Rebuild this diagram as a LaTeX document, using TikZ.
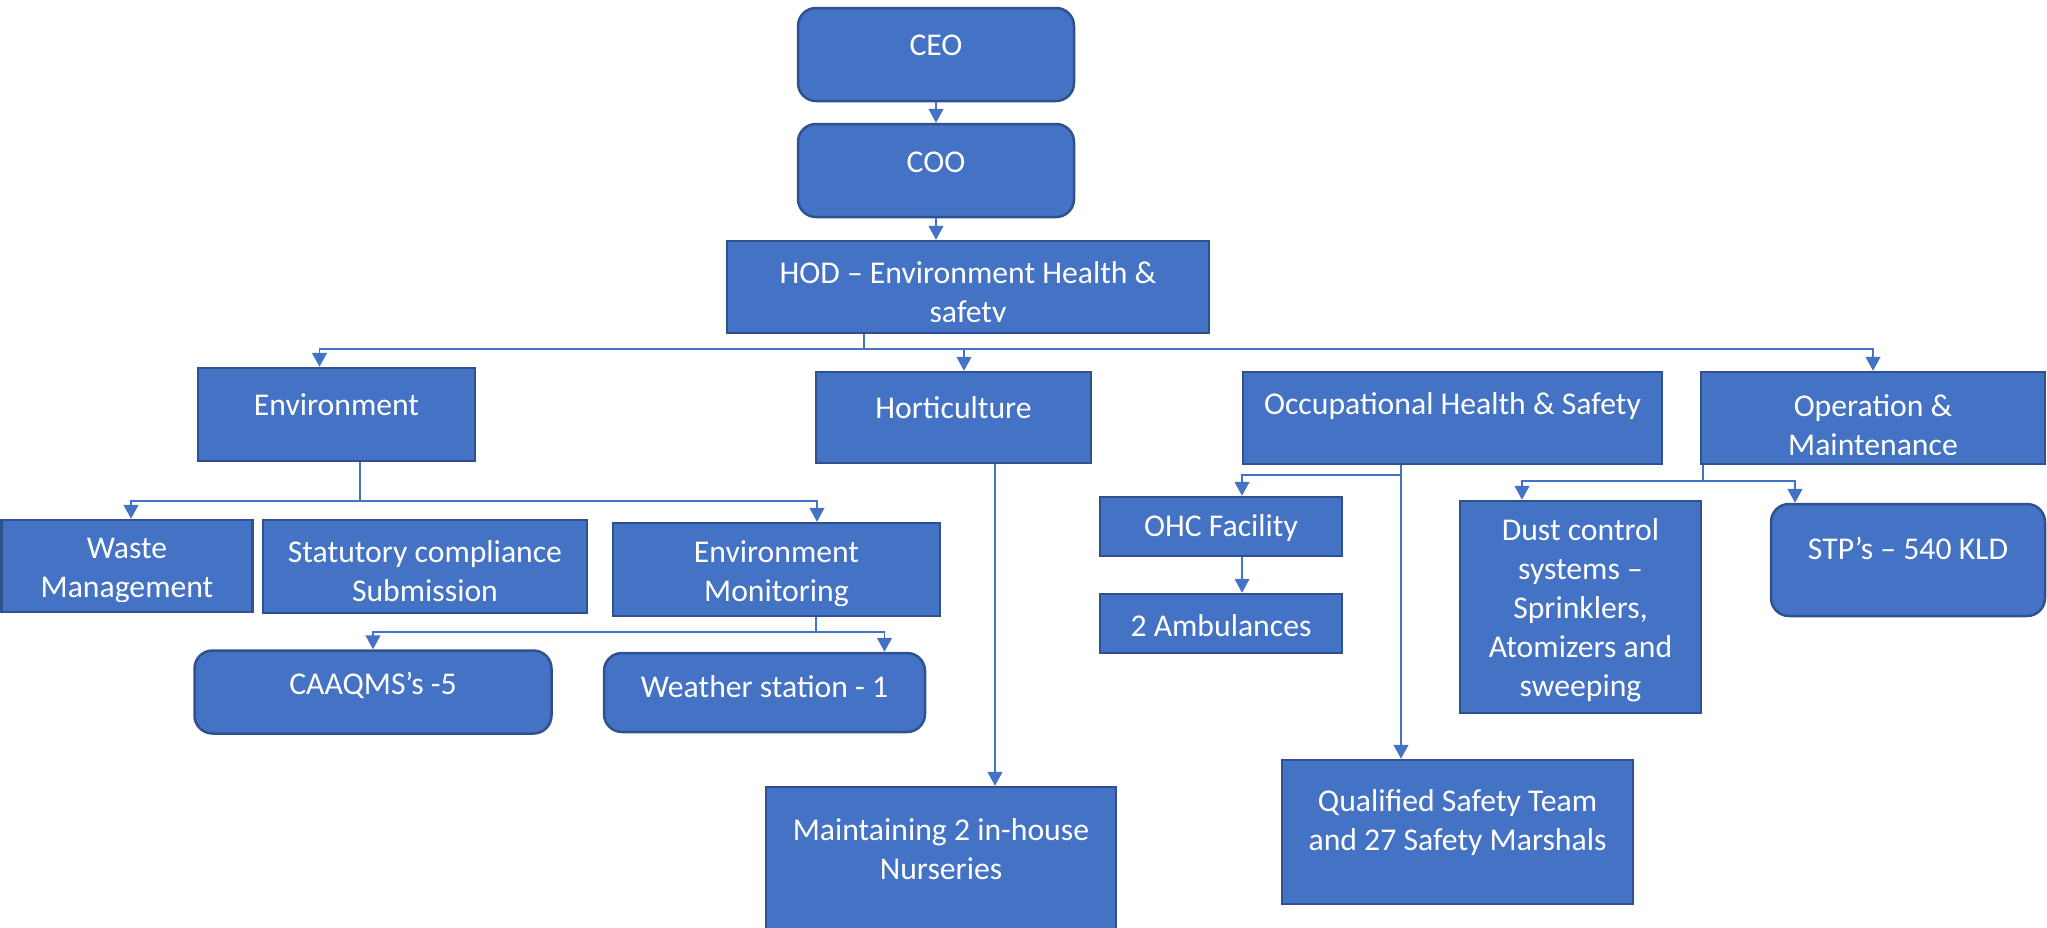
\documentclass[tikz,border=0pt]{standalone}
\usepackage{fontspec}
\setmainfont{Carlito}
\usetikzlibrary{arrows.meta}

\definecolor{boxfill}{HTML}{4472C4}
\definecolor{boxline}{HTML}{2F528F}
\definecolor{linkblue}{HTML}{4472C4}

\begin{document}
\begin{tikzpicture}[
    x=1pt, y=-1pt,
    box/.style={rectangle, draw=boxline, line width=2.5pt, fill=boxfill, inner sep=0pt},
    rbox/.style={box, rounded corners=18pt},
    txt/.style={text=white, align=center, inner sep=0pt, font=\fontsize{31.7}{39}\selectfont},
    link/.style={draw=linkblue, line width=1.3pt},
    arrow/.style={link, -{Triangle[length=14pt, width=15pt]}}
]
\useasboundingbox (0,0) rectangle (2047,927);

% --- Top chain ---
\node[rbox, minimum width=276pt, minimum height=93pt] (ceo) at (936,54.5) {};
\node[txt] (ceo_txt) at ([yshift=9.5pt]ceo.center) {CEO};
\node[rbox, minimum width=276pt, minimum height=93pt] (coo) at (936,170.5) {};
\node[txt] (coo_txt) at ([yshift=8.5pt]coo.center) {COO};
\node[box, minimum width=482pt, minimum height=92pt] (hod) at (968,287) {};
\begin{scope}
  \clip (hod.north west) rectangle ([yshift=13pt]hod.south east);
  \node[txt] (hod_txt) at ([yshift=-7.5pt]hod.center) {HOD – Environment Health \&\\safety};
\end{scope}

% --- Departments ---
\node[box, minimum width=277pt, minimum height=93pt] (env) at (336.5,414.5) {};
\node[txt] (env_txt) at ([yshift=10pt]env.center) {Environment};
\node[box, minimum width=275pt, minimum height=91pt] (hort) at (953.5,417.5) {};
\node[txt] (hort_txt) at ([yshift=10pt]hort.center) {Horticulture};
\node[box, minimum width=419pt, minimum height=92pt] (ohs) at (1452.5,418) {};
\node[txt] (ohs_txt) at ([yshift=12pt]ohs.center) {Occupational Health \& Safety};
\node[box, minimum width=344pt, minimum height=92pt] (om) at (1873,418) {};
\begin{scope}
  \clip (om.north west) rectangle ([yshift=11pt]om.south east);
  \node[txt] (om_txt) at ([yshift=-7.5pt]om.center) {Operation \&\\Maintenance};
\end{scope}

% --- Environment branch ---
\node[box, minimum width=251pt, minimum height=92pt] (waste) at (127,566) {};
\begin{scope}
  \clip (waste.north west) rectangle ([yshift=12pt]waste.south east);
  \node[txt] (waste_txt) at ([yshift=-4.5pt]waste.center) {Waste\\Management};
\end{scope}
\node[box, minimum width=324pt, minimum height=93pt] (stat) at (425,566.5) {};
\node[txt] (stat_txt) at ([yshift=-4.5pt]stat.center) {Statutory compliance\\Submission};
\node[box, minimum width=327pt, minimum height=93pt] (envmon) at (776.5,569.5) {};
\begin{scope}
  \clip (envmon.north west) rectangle ([yshift=12pt]envmon.south east);
  \node[txt] (envmon_txt) at ([yshift=-4pt]envmon.center) {Environment\\Monitoring};
\end{scope}
\node[rbox, minimum width=357pt, minimum height=83pt] (caaqms) at (373,692) {};
\node[txt] (caaqms_txt) at ([yshift=7pt]caaqms.center) {CAAQMS’s -5};
\node[rbox, minimum width=321pt, minimum height=79pt] (weather) at (764.5,692.5) {};
\node[txt] (weather_txt) at ([yshift=5.5pt]weather.center) {Weather station - 1};

% --- Horticulture branch ---
\node[box, minimum width=350pt, minimum height=173pt] (nurs) at (941,873.5) {};
\node[txt] (nurs_txt) at ([yshift=24.5pt]nurs.center) {Maintaining 2 in-house\\Nurseries};

% --- OHS branch ---
\node[box, minimum width=242pt, minimum height=59pt] (ohc) at (1221,526.5) {};
\node[txt] (ohc_txt) at ([yshift=-1.5pt]ohc.center) {OHC Facility};
\node[box, minimum width=242pt, minimum height=59pt] (amb) at (1221,623.5) {};
\node[txt] (amb_txt) at ([yshift=-2.5pt]amb.center) {2 Ambulances};
\node[box, minimum width=351pt, minimum height=144pt] (qual) at (1457.5,832) {};
\node[txt] (qual_txt) at ([yshift=9pt]qual.center) {Qualified Safety Team\\and 27 Safety Marshals};

% --- O&M branch ---
\node[box, minimum width=241pt, minimum height=212pt] (dust) at (1580.5,607) {};
\node[txt] (dust_txt) at ([yshift=-3pt]dust.center) {Dust control\\systems –\\Sprinklers,\\Atomizers and\\sweeping};
\node[rbox, minimum width=274pt, minimum height=112pt] (stp) at (1908,560) {};
\node[txt] (stp_txt) at ([yshift=12pt]stp.center) {STP’s – 540 KLD};

% --- Connectors ---
\draw[arrow] (ceo.south) -- (coo.north);
\draw[arrow] (coo.south) -- (coo.south |- hod.north);

% HOD to departments
\coordinate (hod_bus) at (864,349);
\draw[link] (hod.south -| hod_bus) -- (hod_bus);
\draw[arrow] (hod_bus) -| ([xshift=-17pt]env.north);
\draw[arrow] (hod_bus) -| ([xshift=10.5pt]hort.north);
\draw[arrow] (hod_bus) -| (om.north);

% Environment
\coordinate (env_bus) at (360,501);
\draw[link] (env.south -| env_bus) -- (env_bus);
\draw[arrow] (env_bus) -| ([xshift=4pt]waste.north);
\draw[arrow] (env_bus) -| ([xshift=40.5pt]envmon.north);
\coordinate (envmon_bus) at (816,632);
\draw[link] (envmon.south -| envmon_bus) -- (envmon_bus);
\draw[arrow] (envmon_bus) -| (caaqms.north);
\draw[arrow] (envmon_bus) -| ([xshift=120pt]weather.north);

% Horticulture
\draw[arrow] ([xshift=41.5pt]hort.south) -- ([xshift=41.5pt]hort.south |- nurs.north);

% OHS
\coordinate (ohs_bus) at (1401,475);
\draw[arrow] (ohs.south -| ohs_bus) -- (ohs_bus |- qual.north);
\draw[arrow] (ohs_bus) -| ([xshift=21pt]ohc.north);
\draw[arrow] ([xshift=21pt]ohc.south) -- ([xshift=21pt]amb.north);

% O&M
\coordinate (om_bus) at (1703,481);
\draw[link] (om.south -| om_bus) -- (om_bus);
\draw[arrow] (om_bus) -| ([xshift=-58.5pt]dust.north);
\draw[arrow] (om_bus) -| ([xshift=-113pt]stp.north);

\end{tikzpicture}
\end{document}
